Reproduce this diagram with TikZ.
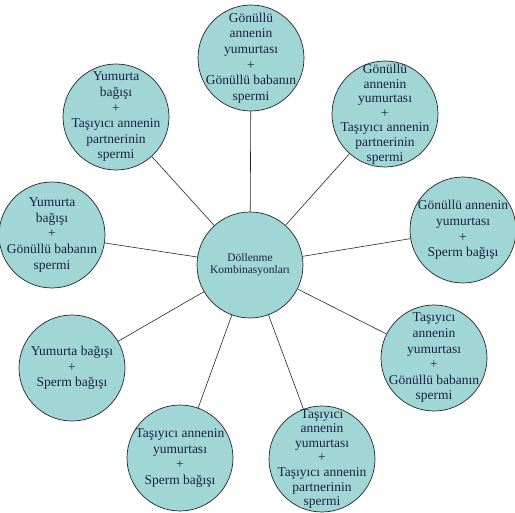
\documentclass[tikz,border=0pt]{standalone}
\usepackage{fontspec}
\setmainfont{Liberation Serif}
\definecolor{bubble}{HTML}{A0D6D6}
\definecolor{ink}{HTML}{1A2240}
\definecolor{edge}{HTML}{262626}
\begin{document}
\begin{tikzpicture}[x=1pt,y=-1pt,
  bub/.style={circle,draw=edge,line width=0.7pt,fill=bubble,minimum size=106pt,inner sep=0pt},
  lab/.style={align=center,text=ink,font=\fontsize{13.5}{15.6}\selectfont,inner sep=0pt},
  tall/.style={font=\fontsize{13.5}{14.6}\selectfont},
  link/.style={draw=edge,line width=0.6pt}]
\useasboundingbox (0,0) rectangle (515,513);
\node[bub] (c) at (250,265) {};
\node[bub] (t) at (251,58) {};
\node[bub] (tr) at (385,114) {};
\node[bub] (r) at (463,230) {};
\node[bub] (lr) at (434,358) {};
\node[bub] (br) at (322,459) {};
\node[bub] (bl) at (180,458) {};
\node[bub] (ll) at (72,368) {};
\node[bub] (l) at (52,235) {};
\node[bub] (tl) at (116,117) {};
\foreach \n in {t,tr,r,lr,br,bl,ll,l,tl}{\draw[link] (c) -- (\n);}
\node[lab,font=\fontsize{11.5}{12.5}\selectfont] (ct) at (c.center) {Döllenme\\Kombinasyonları};
\node[lab] (tt) at (t.center) {Gönüllü\\annenin\\yumurtası\\+\\Gönüllü babanın\\spermi};
\node[lab,tall] (trt) at (tr.center) {Gönüllü\\annenin\\yumurtası\\+\\Taşıyıcı annenin\\partnerinin\\spermi};
\node[lab] (rt) at (r.center) {Gönüllü annenin\\yumurtası\\+\\Sperm bağışı};
\node[lab] (lrt) at (lr.center) {Taşıyıcı\\annenin\\yumurtası\\+\\Gönüllü babanın\\spermi};
\node[lab,tall] (brt) at (br.center) {Taşıyıcı\\annenin\\yumurtası\\+\\Taşıyıcı annenin\\partnerinin\\spermi};
\node[lab] (blt) at (bl.center) {Taşıyıcı annenin\\yumurtası\\+\\Sperm bağışı};
\node[lab] (llt) at (ll.center) {Yumurta bağışı\\+\\Sperm bağışı};
\node[lab] (lt) at (l.center) {Yumurta\\bağışı\\+\\Gönüllü babanın\\spermi};
\node[lab] (tlt) at (tl.center) {Yumurta\\bağışı\\+\\Taşıyıcı annenin\\partnerinin\\spermi};
\end{tikzpicture}
\end{document}
